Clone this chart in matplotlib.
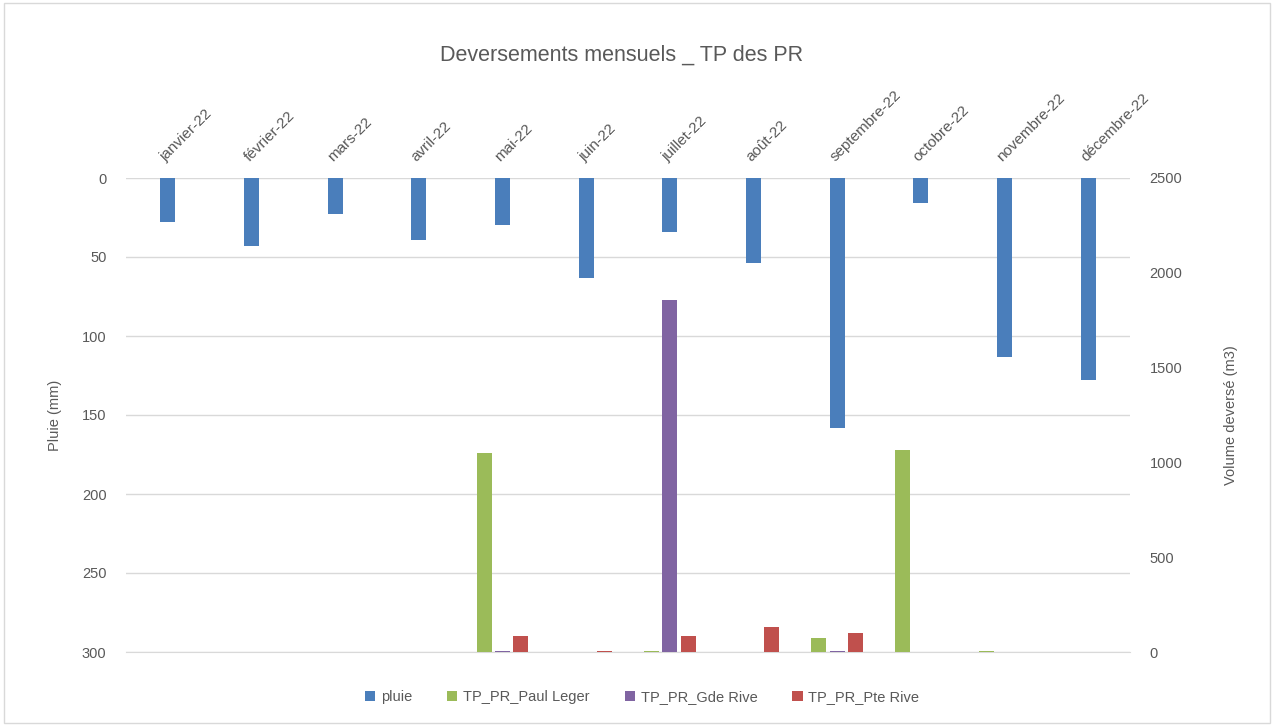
"""Deversements mensuels - TP des PR (pluie + volumes deverses)."""
import numpy as np
import matplotlib
matplotlib.use("Agg")
import matplotlib.pyplot as plt
from matplotlib.patches import Rectangle

plt.rcParams["font.family"] = ["Liberation Sans", "DejaVu Sans"]

mois = ["janvier-22", "février-22", "mars-22", "avril-22", "mai-22", "juin-22",
        "juillet-22", "août-22", "septembre-22", "octobre-22", "novembre-22",
        "décembre-22"]
pluie = [28, 43, 23, 39, 30, 63, 34, 54, 158, 16, 113, 128]
paul_leger = [0, 0, 0, 0, 1050, 0, 4, 0, 74, 1065, 6, 0]
gde_rive = [0, 0, 0, 0, 4, 0, 1857, 0, 4, 0, 0, 0]
pte_rive = [0, 0, 0, 0, 84, 6, 84, 132, 100, 0, 0, 0]

C_PLUIE = "#4a7ebb"
C_PAUL = "#9bbb59"
C_GDE = "#8064a2"
C_PTE = "#c0504d"
TXT = "#595959"
GRID = "#d9d9d9"

fig = plt.figure(figsize=(12.74, 7.26), dpi=100)
ax = fig.add_axes([126 / 1274, 1 - 652 / 726, (1130 - 126) / 1274, (652 - 178) / 726])
ax2 = ax.twinx()

x = np.arange(len(mois))
w = 0.18

ax.bar(x, pluie, width=w, color=C_PLUIE, label="pluie", zorder=3)
ax.set_ylim(300, 0)
ax.set_xlim(-0.5, len(mois) - 0.5)
ax.set_yticks(np.arange(0, 301, 50))
ax.grid(axis="y", color=GRID, lw=1, zorder=0)
ax.set_axisbelow(True)

ax2.bar(x - 0.22, paul_leger, width=w, color=C_PAUL, label="TP_PR_Paul Leger", zorder=3)
ax2.bar(x, gde_rive, width=w, color=C_GDE, label="TP_PR_Gde Rive", zorder=3)
ax2.bar(x + 0.22, pte_rive, width=w, color=C_PTE, label="TP_PR_Pte Rive", zorder=3)
ax2.set_ylim(0, 2500)
ax2.set_yticks(np.arange(0, 2501, 500))

# axe des categories en haut (axe principal inverse)
ax.xaxis.tick_top()
ax.set_xticks(x)
ax.set_xticklabels(mois, rotation=45, ha="left", va="bottom",
                   rotation_mode="anchor", fontsize=11, color=TXT)
ax.tick_params(axis="x", length=0, pad=10)
ax.tick_params(axis="y", length=0, labelsize=10.5, labelcolor=TXT, pad=14)
ax2.tick_params(axis="y", length=0, labelsize=10.5, labelcolor=TXT, pad=14)

for a in (ax, ax2):
    for s in a.spines.values():
        s.set_visible(False)
ax.spines["bottom"].set_visible(True)
ax.spines["bottom"].set_color(GRID)

ax.set_ylabel("Pluie (mm)", fontsize=10.5, color=TXT, labelpad=14)
ax2.set_ylabel("Volume deversé (m3)", fontsize=10.5, color=TXT, labelpad=30)

fig.text(0.488, 0.924, "Deversements mensuels _ TP des PR", ha="center",
         va="center", fontsize=15.5, color=TXT)

h1, l1 = ax.get_legend_handles_labels()
h2, l2 = ax2.get_legend_handles_labels()
fig.legend(h1 + h2, l1 + l2, loc="center", bbox_to_anchor=(0.504, 0.04),
           ncol=4, frameon=False, fontsize=10.5, labelcolor=TXT,
           handlelength=0.7, handleheight=0.7, handletextpad=0.4, columnspacing=2.4)

fig.patches.append(Rectangle((0.003, 0.004), 0.994, 0.992, transform=fig.transFigure,
                             fill=False, edgecolor=GRID, lw=1))

fig.savefig("out.png", dpi=100)
